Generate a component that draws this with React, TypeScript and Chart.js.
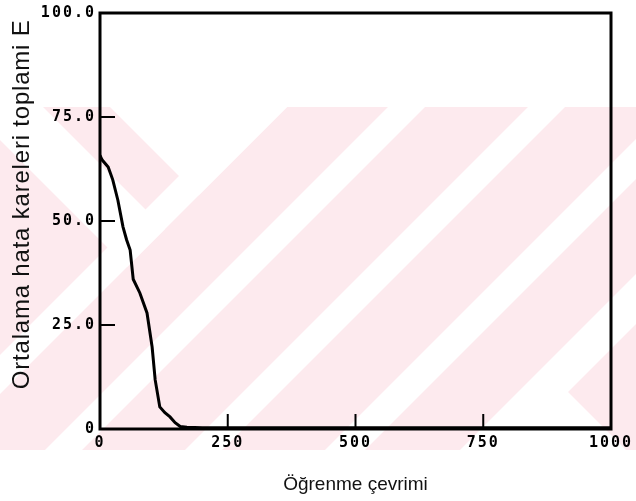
import { useEffect, useRef } from 'react';
import { Chart, registerables } from 'chart.js';

Chart.register(...registerables);

// Learning curve: mean squared error sum vs. training cycle
const cycles = [0, 4, 16, 25, 35, 45, 52, 59, 65, 78, 92, 102, 108, 117, 127, 137, 147, 157, 170, 200, 300, 400, 500, 600, 700, 800, 900, 1000];
const errors = [65.8, 64.7, 63.0, 59.9, 55.0, 48.6, 45.5, 43.0, 36.0, 32.7, 27.9, 19.7, 11.8, 5.3, 3.9, 2.9, 1.5, 0.6, 0.4, 0.3, 0.3, 0.3, 0.3, 0.3, 0.3, 0.3, 0.3, 0.3];

const xTicks = [0, 250, 500, 750, 1000];
const yTicks = [0, 25, 50, 75, 100];
const yTickLabels = ['0', '25.0', '50.0', '75.0', '100.0'];

const xTitle = 'Öğrenme çevrimi';
const yTitle = 'Ortalama hata kareleri toplami E';

// light pink diagonal background pattern
const watermark = {
  id: 'watermark',
  beforeDraw(chart: any) {
    const { ctx, width, height } = chart;
    ctx.save();
    ctx.fillStyle = '#ffffff';
    ctx.fillRect(0, 0, width, height);
    const top = 107;
    const bottom = 450;
    ctx.beginPath();
    ctx.rect(0, top, width, bottom - top);
    ctx.clip();
    ctx.fillStyle = '#fdeaee';
    ctx.fillRect(0, top, width, bottom - top);
    ctx.fillStyle = '#ffffff';
    const poly = (pts: number[][]) => {
      ctx.beginPath();
      pts.forEach(([x, y], i) => (i ? ctx.lineTo(x, y) : ctx.moveTo(x, y)));
      ctx.closePath();
      ctx.fill();
    };
    const slash = [[355, 394], [495, 532], [635, 672], [775, 815], [910, 960]];
    slash.forEach(([a, b]) => poly([[a - top, top], [b - top, top], [b - bottom, bottom], [a - bottom, bottom]]));
    poly([[110, top], [287, top], [198.5, 195.5]]);
    poly([[0, top], [43, top], [165, 229], [127, 267], [0, 140]]);
    poly([[551, 375], [476, bottom], [626, bottom]]);
    ctx.restore();
    // spaced-out tick lettering
    ctx.letterSpacing = '2px';
  },
  beforeDatasetsDraw(chart: any) {
    chart.ctx.letterSpacing = '0px';
  },
};

// frame, inward tick marks and axis titles
const frame = {
  id: 'frame',
  afterDraw(chart: any) {
    const { ctx, chartArea } = chart;
    const { left, right, top, bottom } = chartArea;
    const xs = chart.scales.x;
    const ys = chart.scales.y;
    ctx.save();
    ctx.letterSpacing = '0px';
    ctx.strokeStyle = '#000';
    ctx.lineWidth = 3;
    ctx.strokeRect(left, top, right - left, bottom - top);
    ctx.lineWidth = 2;
    ctx.beginPath();
    yTicks.slice(1, -1).forEach((v) => {
      const y = ys.getPixelForValue(v);
      ctx.moveTo(left, y);
      ctx.lineTo(left + 15, y);
    });
    xTicks.slice(1, -1).forEach((v) => {
      const x = xs.getPixelForValue(v);
      ctx.moveTo(x, bottom);
      ctx.lineTo(x, bottom - 15);
    });
    ctx.stroke();

    ctx.fillStyle = '#111';
    ctx.textAlign = 'center';
    ctx.textBaseline = 'middle';
    ctx.font = '19px "Liberation Sans", Arial, sans-serif';
    ctx.fillText(xTitle, (left + right) / 2, bottom + 56);

    ctx.translate(22, top + (bottom - top) * 0.46);
    ctx.rotate(-Math.PI / 2);
    ctx.font = '24px "Liberation Sans", Arial, sans-serif';
    ctx.letterSpacing = '0.8px';
    ctx.fillText(yTitle, 0, 0);
    ctx.restore();
  },
};

export default function App() {
  const ref = useRef<HTMLCanvasElement | null>(null);

  useEffect(() => {
    if (!ref.current) return;
    const tickFont = { family: '"DejaVu Sans Mono", monospace', size: 15, weight: 'bold' as const };
    const chart = new Chart(ref.current, {
      type: 'line',
      data: {
        datasets: [
          {
            data: cycles.map((c, i) => ({ x: c, y: errors[i] })),
            borderColor: '#000',
            borderWidth: 3,
            pointRadius: 0,
            fill: false,
            tension: 0,
          },
        ],
      },
      options: {
        responsive: false,
        animation: false,
        devicePixelRatio: 1,
        layout: { padding: { top: 13, right: 25, bottom: 0, left: 0 } },
        plugins: { legend: { display: false }, tooltip: { enabled: false } },
        scales: {
          x: {
            type: 'linear',
            min: 0,
            max: 1000,
            grid: { display: false, drawTicks: false },
            border: { display: false },
            afterBuildTicks: (s: any) => {
              s.ticks = xTicks.map((v) => ({ value: v }));
            },
            afterFit: (s: any) => {
              s.height = 72;
              s.paddingLeft = 0;
              s.paddingRight = 0;
            },
            ticks: {
              color: '#000',
              font: tickFont,
              padding: 5,
              maxRotation: 0,
              autoSkip: false,
              callback: (v: any) => String(v),
            },
          },
          y: {
            type: 'linear',
            min: 0,
            max: 100,
            grid: { display: false, drawTicks: false },
            border: { display: false },
            afterBuildTicks: (s: any) => {
              s.ticks = yTicks.map((v) => ({ value: v }));
            },
            afterFit: (s: any) => {
              s.width = 100;
              s.paddingTop = 0;
              s.paddingBottom = 0;
            },
            ticks: {
              color: '#000',
              font: tickFont,
              padding: 4,
              autoSkip: false,
              callback: (v: any) => yTickLabels[yTicks.indexOf(Number(v))] ?? String(v),
            },
          },
        },
      },
      plugins: [watermark, frame],
    });
    return () => chart.destroy();
  }, []);

  return (
    <div style={{ position: 'fixed', left: 0, top: 0, width: 636, height: 501, background: '#fff' }}>
      <canvas ref={ref} width={636} height={501} style={{ display: 'block' }} />
    </div>
  );
}
